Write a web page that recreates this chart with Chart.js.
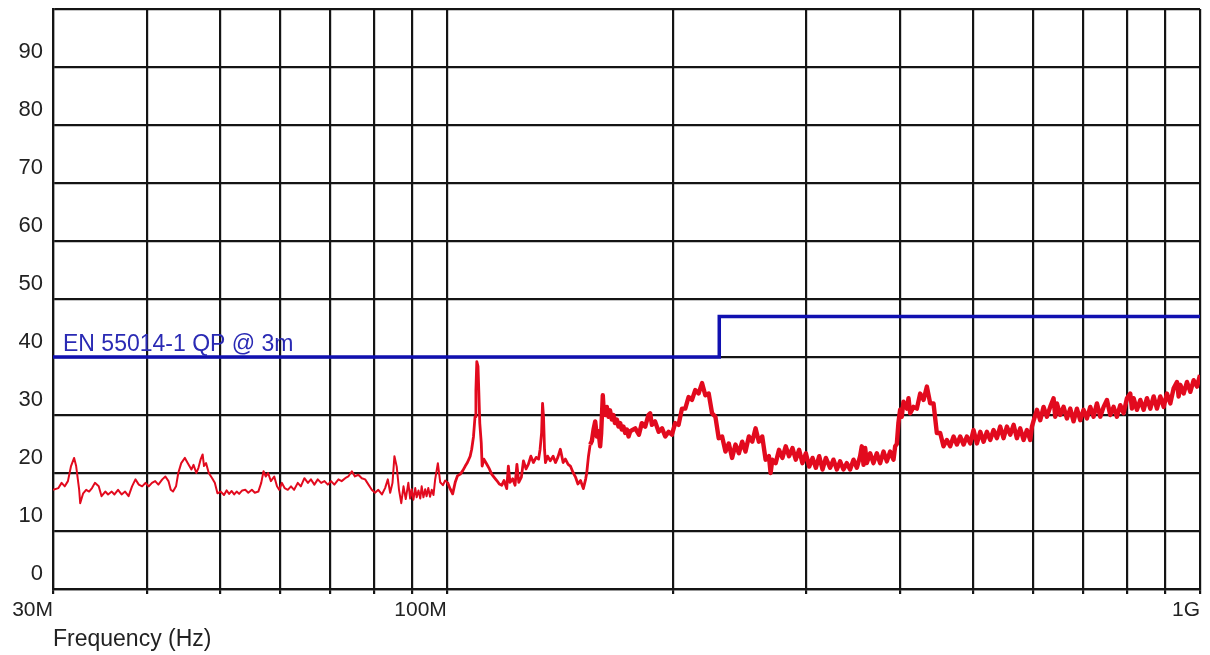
<!DOCTYPE html>
<html>
<head>
<meta charset="utf-8">
<script src="https://cdn.jsdelivr.net/npm/chart.js@4.4.1/dist/chart.umd.min.js"></script>
<style>
  html, body { margin: 0; padding: 0; background: #ffffff; }
  #wrap { width: 1210px; height: 655px; position: relative; }
</style>
</head>
<body>
<div id="wrap"><canvas id="chart"></canvas></div>
<script>
// Radiated emission scan, 30 MHz - 1 GHz (frequency in MHz, level in dBuV/m)
const traceFreqMHz = [
  30.0, 30.5, 30.8, 31.1, 31.4, 31.7, 32.0, 32.2, 32.5, 32.6, 32.9, 33.2, 33.5, 33.8, 34.1, 34.5,
  34.8, 35.2, 35.5, 35.9, 36.2, 36.6, 37.0, 37.4, 37.8, 38.2, 38.6, 39.0, 39.4, 39.8, 40.2, 40.6,
  41.0, 41.4, 41.9, 42.3, 42.7, 43.0, 43.3, 43.7, 44.0, 44.4, 44.9, 45.3, 45.8, 46.1, 46.5, 46.8,
  47.1, 47.4, 47.6, 47.9, 48.3, 48.8, 49.2, 49.6, 50.1, 50.6, 51.0, 51.4, 51.8, 52.2, 52.6, 53.0,
  53.5,
  54.0, 54.5, 55.1, 55.6, 56.2, 56.7, 57.1, 57.5, 57.9, 58.4, 59.0, 59.5, 59.9, 60.4, 60.9, 61.5,
  62.1, 62.7, 63.4, 64.0, 64.7, 65.4, 66.0, 66.7, 67.4, 68.1, 68.8, 69.5, 70.2, 70.9, 71.8, 72.5,
  73.3, 74.0, 74.8, 75.5, 76.3, 77.1, 77.9, 78.7, 79.5, 80.3, 81.1, 82.0, 82.8, 83.5, 84.1, 84.7,
  85.2, 85.8, 86.4, 87.0, 87.6, 88.2, 88.9, 89.4, 89.8, 90.3, 90.8, 91.2, 91.7, 92.2, 92.6, 93.1,
  93.6, 94.0, 94.5, 95.0, 95.5, 96.0, 96.5, 97.3,
  98.0, 98.8, 99.5, 100.2, 101.0, 101.8, 102.6, 103.3, 104.2, 105.0, 105.8, 106.5, 107.4, 107.9,
  108.5, 109.0, 109.3, 109.6, 110.0, 110.3, 110.6, 111.1, 111.4, 112.0, 113.0, 113.9, 114.7, 115.5,
  116.5, 117.4, 118.3, 119.1, 120.1, 120.7, 121.3, 122.3, 123.2, 123.9, 124.6, 125.6, 126.4, 127.4,
  128.3, 129.3, 130.3, 131.4, 132.4, 133.0, 133.6, 134.0, 134.4, 134.8, 135.2, 136.1, 137.2, 138.4,
  139.4, 140.4, 141.5, 142.7, 143.7, 144.9, 145.9, 147.1, 148.2, 149.3, 150.5, 151.8, 152.9, 153.4,
  154.2, 155.0, 155.8, 156.6, 157.4, 158.2, 159.0, 159.8, 160.3, 161.1, 161.5, 162.3, 163.1, 163.9,
  164.7, 165.6, 166.4, 167.2, 168.2, 169.0, 169.9, 170.7, 171.6, 172.5, 173.4, 174.3, 175.2,
  177.9, 179.9, 181.5, 183.4, 185.2, 186.2, 187.2, 189.0, 191.1, 193.1, 195.0, 197.0, 199.0, 201.0,
  203.1, 205.2, 207.3, 209.4, 211.6, 213.7, 215.9, 218.2, 220.4, 222.7, 225.0, 227.3, 229.6, 232.0,
  234.4, 236.8, 239.2, 241.7, 244.2, 246.7, 249.2, 251.8, 254.4, 257.0, 259.6, 262.3, 265.0, 267.7,
  269.1, 270.5, 273.3, 276.1, 279.0, 281.8, 284.7, 287.7, 290.6, 293.6, 296.6, 299.7, 302.8, 305.9,
  309.0, 312.2, 315.4, 318.6,
  322.8, 326.1, 329.5, 332.8, 336.2, 339.7, 343.1, 346.7, 350.3, 353.8, 355.6, 357.5, 359.3, 361.1,
  364.8, 368.5, 372.3, 376.1, 380.0, 383.9, 387.8, 391.8, 393.8, 395.8, 397.7, 399.8, 401.8, 403.9,
  408.1, 410.2, 412.3, 416.5, 420.8, 425.1, 429.5, 433.9, 438.3, 442.8, 447.3, 451.9, 456.5, 461.2,
  465.9, 470.8, 475.6, 480.5, 485.4, 490.3, 495.3, 500.4, 505.6, 510.8, 516.0, 521.3, 526.6, 532.0,
  537.4, 542.9, 548.5, 554.1,
  559.8, 565.6, 571.3, 577.1, 583.1, 589.1, 595.1, 598.2, 601.2, 607.4, 613.6, 619.9, 626.2, 632.6,
  639.1, 642.4, 645.7, 652.3, 659.0, 665.7, 672.5, 679.4, 686.4, 693.4, 700.5, 707.7, 715.0, 722.3,
  729.7, 737.2, 744.8, 752.4, 760.1, 767.9, 775.7, 783.7, 791.7, 799.8, 808.0, 812.1, 816.3, 824.7,
  833.2, 841.7, 850.3, 859.1, 867.9, 876.7, 885.7, 894.8, 903.9, 913.2, 922.6, 932.0, 936.8, 941.6,
  951.2, 961.0, 970.8, 980.8, 990.8, 1000
];
const traceLevel = [
  17.1, 17.4, 18.3, 17.7, 18.6, 21.2, 22.6, 21.2, 17.1, 14.8, 16.5, 17.1, 16.8, 17.4, 18.3, 17.7,
  16.0, 16.8, 16.3, 16.8, 16.3, 17.1, 16.3, 16.8, 16.0, 17.7, 18.9, 18.0, 17.7, 18.3, 17.7, 18.3,
  18.6, 18.0, 18.9, 19.4, 18.6, 17.1, 16.8, 17.7, 20.0, 21.7, 22.6, 21.7, 20.6, 21.4, 20.0, 20.9,
  22.3, 23.2, 21.2, 21.7, 20.0, 19.1, 18.3, 16.5, 16.8, 16.2, 17.0, 16.4, 16.9, 16.3, 16.8, 16.4,
  17.0,
  17.1, 16.6, 17.1, 16.6, 16.8, 18.3, 20.3, 19.4, 20.0, 18.6, 19.4, 17.7, 17.1, 18.3, 17.4, 17.1,
  17.7, 17.1, 18.3, 17.7, 19.1, 18.3, 18.9, 18.0, 18.9, 18.3, 18.6, 18.0, 18.6, 18.0, 18.9, 18.6,
  19.1, 19.4, 20.3, 19.4, 19.7, 19.1, 18.9, 18.0, 17.1, 16.6, 17.1, 16.3, 17.4, 18.9, 16.6, 18.3,
  22.9, 21.1, 17.1, 14.8, 17.7, 15.5, 18.3, 15.6, 17.2, 15.4, 17.4, 15.8, 17.0, 15.6, 17.7, 15.8,
  17.2, 16.0, 17.4, 15.9, 17.1, 16.2, 18.9, 21.7,
  18.4, 17.9, 18.7, 18.4, 17.3, 16.4, 18.4, 19.5, 19.8, 20.4, 21.2, 21.8, 22.9, 24.1,
  26.3, 29.7, 34.2, 39.2, 38.4, 33.7, 28.6, 25.2, 21.2, 22.4, 21.5, 20.7, 19.8, 19.3,
  18.7, 18.1, 17.9, 18.7, 17.3, 21.2, 18.4, 19.0, 17.9, 21.5, 18.4, 19.3, 22.1, 20.7,
  21.5, 22.9, 21.8, 22.7, 22.4, 24.1, 26.9, 32.0, 29.7, 24.1, 21.8, 22.9, 22.1, 22.9,
  21.8, 22.7, 24.1, 21.8, 22.4, 21.5, 21.2, 20.1, 19.3, 18.1, 18.7, 17.3, 19.0, 20.1,
  22.9, 24.9, 25.5, 27.5, 28.9, 26.3, 27.2, 24.6, 26.9, 33.4, 31.1, 30.0, 31.4, 29.7,
  30.8, 29.2, 30.0, 28.6, 29.2, 28.0, 28.6, 27.5, 28.0, 26.9, 27.5, 26.3, 27.2,
  27.7, 26.6, 28.6, 28.0, 30.0, 30.3, 28.3, 28.9, 27.1, 27.7, 26.3, 27.1, 26.6, 28.6,
  28.3, 31.1, 31.1, 33.1, 32.6, 34.3, 33.7, 35.5, 33.4, 33.7, 30.3, 29.7, 26.0, 26.3,
  23.7, 25.1, 22.6, 24.9, 23.4, 25.4, 23.7, 26.3, 25.4, 27.7, 25.4, 26.3, 22.3, 22.9,
  20.0, 22.3, 21.7, 24.0, 22.6, 24.6, 22.9, 24.3, 22.3, 24.0, 21.7, 23.4, 21.1, 22.6,
  20.9, 22.9, 20.6, 22.6,
  20.9, 22.3, 20.6, 22.0, 20.6, 21.7, 20.6, 22.3, 20.9, 22.9, 24.6, 21.4, 24.3, 21.7,
  23.4, 21.7, 23.4, 21.7, 23.7, 22.0, 23.7, 22.3, 24.6, 25.0, 28.6, 30.9, 29.7, 32.3,
  31.1, 32.9, 30.3, 31.4, 31.1, 33.7, 32.6, 34.9, 32.0, 32.0, 26.9, 26.9, 24.6, 25.7,
  24.6, 26.3, 24.9, 26.3, 24.9, 26.3, 25.1, 27.4, 25.1, 27.1, 25.4, 27.1, 25.7, 27.4,
  26.0, 28.0, 26.0, 28.0,
  26.6, 28.3, 26.0, 27.7, 25.7, 27.4, 25.7, 28.0, 29.0, 30.9, 29.1, 31.4, 29.7, 31.4,
  32.9, 29.7, 32.0, 30.0, 31.4, 29.4, 31.1, 28.9, 31.1, 29.1, 30.9, 29.4, 31.4, 29.7,
  32.0, 29.7, 31.4, 32.6, 30.0, 31.4, 29.7, 31.7, 30.3, 32.9, 33.7, 31.1, 32.9, 30.9,
  32.6, 30.9, 32.9, 31.1, 33.2, 31.1, 33.2, 31.4, 33.7, 32.0, 34.6, 35.7, 33.2, 35.2,
  33.7, 35.7, 34.0, 36.0, 34.9, 36.9
];

// Quasi-peak limit line, stepping up at 230 MHz
const limitFreqMHz = [30, 230, 230, 1000];
const limitLevel = [40, 40, 47, 47];
const limitName = 'EN 55014-1 QP @ 3m';

// Axis ticks
const xGridMHz = [30, 40, 50, 60, 70, 80, 90, 100, 200, 300, 400, 500, 600, 700, 800, 900, 1000];
const xLabelValues = [30, 100, 1000];
const xLabelText = ['30M', '100M', '1G'];
const yGridValues = [0, 10, 20, 30, 40, 50, 60, 70, 80, 90, 100];
const yLabelValues = [0, 10, 20, 30, 40, 50, 60, 70, 80, 90];
const xTitle = 'Frequency (Hz)';

const FONT = '"Liberation Sans", Arial, Helvetica, sans-serif';
const GRID = '#141414';

// The scan gets noisier (wider trace) above the FM band
function traceWidth(freq) {
  if (freq >= 155) return 4.4;
  if (freq >= 100) return 2.8;
  return 2;
}

const limitLabelPlugin = {
  id: 'limitLabel',
  afterDatasetsDraw(chart) {
    const { ctx, scales: { x, y } } = chart;
    ctx.save();
    ctx.font = '23px ' + FONT;
    ctx.fillStyle = '#2a2ab4';
    ctx.textAlign = 'left';
    ctx.textBaseline = 'alphabetic';
    ctx.fillText(limitName, x.getPixelForValue(limitFreqMHz[0]) + 10, y.getPixelForValue(limitLevel[0]) - 6);
    ctx.restore();
  }
};

new Chart(document.getElementById('chart'), {
  type: 'line',
  data: {
    datasets: [
      {
        label: 'Scan',
        data: traceFreqMHz.map((f, i) => ({ x: f, y: traceLevel[i] })),
        borderColor: '#e20a1e',
        borderWidth: 2,
        borderJoinStyle: 'round',
        pointRadius: 0,
        tension: 0,
        segment: { borderWidth: (c) => traceWidth(c.p0.parsed.x) }
      },
      {
        label: limitName,
        data: limitFreqMHz.map((f, i) => ({ x: f, y: limitLevel[i] })),
        borderColor: '#1010b0',
        borderWidth: 3.5,
        pointRadius: 0,
        tension: 0
      }
    ]
  },
  options: {
    responsive: true,
    maintainAspectRatio: false,
    animation: false,
    events: [],
    layout: { padding: { top: 9, right: 10, left: 0, bottom: 0 } },
    plugins: { legend: { display: false }, tooltip: { enabled: false } },
    scales: {
      x: {
        type: 'logarithmic',
        min: 30,
        max: 1000,
        afterBuildTicks: (scale) => { scale.ticks = xGridMHz.map(v => ({ value: v })); },
        afterFit: (scale) => {
          scale.height = 66;
          scale.paddingLeft = 0;
          scale.paddingRight = 0;
        },
        grid: { color: GRID, lineWidth: 2.2, drawTicks: true, tickLength: 5, tickColor: GRID },
        border: { color: GRID, width: 2.2 },
        ticks: {
          autoSkip: false,
          maxRotation: 0,
          align: 'end',
          padding: 4,
          color: '#222',
          font: { family: FONT, size: 21 },
          callback: (value) => {
            const i = xLabelValues.indexOf(value);
            return i >= 0 ? xLabelText[i] : '';
          }
        },
        title: {
          display: true,
          text: xTitle,
          align: 'start',
          color: '#222',
          font: { family: FONT, size: 23 },
          padding: { top: 0, bottom: 2 }
        }
      },
      y: {
        type: 'linear',
        min: 0,
        max: 100,
        afterBuildTicks: (scale) => { scale.ticks = yGridValues.map(v => ({ value: v })); },
        afterFit: (scale) => {
          scale.width = 53;
          scale.paddingTop = 0;
          scale.paddingBottom = 0;
        },
        grid: { color: GRID, lineWidth: 2.2, drawTicks: false },
        border: { color: GRID, width: 2.2 },
        ticks: {
          padding: 10,
          labelOffset: -15,
          color: '#222',
          font: { family: FONT, size: 22 },
          callback: (value) => (yLabelValues.includes(value) ? String(value) : '')
        }
      }
    }
  },
  plugins: [limitLabelPlugin]
});
</script>
</body>
</html>
